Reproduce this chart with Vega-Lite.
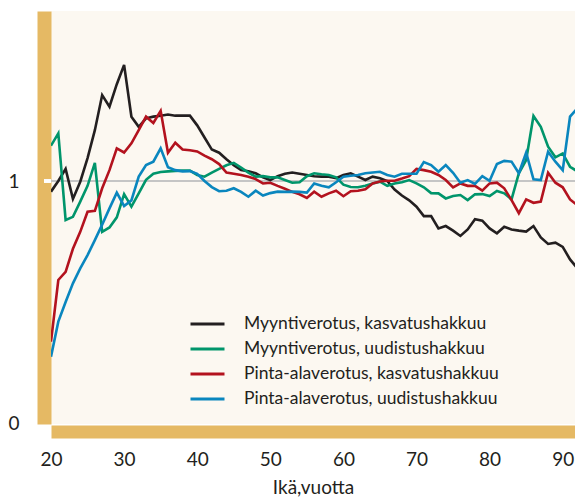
{
  "$schema": "https://vega.github.io/schema/vega-lite/v6.json",
  "width": 524,
  "height": 413,
  "autosize": {"type": "none"},
  "padding": {"left": 51, "top": 11, "right": 0, "bottom": 73},
  "background": "#ffffff",
  "config": {
    "font": "Lato",
    "view": {"fill": "#FCF8F1", "stroke": null},
    "axis": {"labelColor": "#231F20", "titleColor": "#231F20", "labelFont": "Lato", "titleFont": "Lato"},
    "legend": {"labelColor": "#231F20", "labelFont": "Lato"}
  },
  "data": {
    "values": [
      {"age": 20, "mk": 0.956, "mu": 1.146, "pk": 0.336, "pu": 0.274},
      {"age": 21, "mk": 1.0, "mu": 1.197, "pk": 0.591, "pu": 0.419},
      {"age": 22, "mk": 1.05, "mu": 0.839, "pk": 0.625, "pu": 0.5},
      {"age": 23, "mk": 0.926, "mu": 0.852, "pk": 0.72, "pu": 0.577},
      {"age": 24, "mk": 0.997, "mu": 0.915, "pk": 0.79, "pu": 0.639},
      {"age": 25, "mk": 1.095, "mu": 0.98, "pk": 0.873, "pu": 0.694},
      {"age": 26, "mk": 1.21, "mu": 1.075, "pk": 0.877, "pu": 0.756},
      {"age": 27, "mk": 1.355, "mu": 0.79, "pk": 0.97, "pu": 0.82},
      {"age": 28, "mk": 1.307, "mu": 0.808, "pk": 1.045, "pu": 0.887},
      {"age": 29, "mk": 1.4, "mu": 0.85, "pk": 1.135, "pu": 0.952},
      {"age": 30, "mk": 1.48, "mu": 0.946, "pk": 1.118, "pu": 0.897},
      {"age": 31, "mk": 1.266, "mu": 0.894, "pk": 1.156, "pu": 0.92},
      {"age": 32, "mk": 1.224, "mu": 0.949, "pk": 1.21, "pu": 1.018},
      {"age": 33, "mk": 1.259, "mu": 1.005, "pk": 1.266, "pu": 1.066},
      {"age": 34, "mk": 1.266, "mu": 1.03, "pk": 1.24, "pu": 1.08},
      {"age": 35, "mk": 1.27, "mu": 1.037, "pk": 1.29, "pu": 1.135},
      {"age": 36, "mk": 1.275, "mu": 1.04, "pk": 1.117, "pu": 1.057},
      {"age": 37, "mk": 1.27, "mu": 1.042, "pk": 1.158, "pu": 1.045},
      {"age": 38, "mk": 1.27, "mu": 1.043, "pk": 1.13, "pu": 1.04},
      {"age": 39, "mk": 1.27, "mu": 1.043, "pk": 1.127, "pu": 1.041},
      {"age": 40, "mk": 1.23, "mu": 1.025, "pk": 1.122, "pu": 1.03},
      {"age": 41, "mk": 1.18, "mu": 1.018, "pk": 1.105, "pu": 1.0},
      {"age": 42, "mk": 1.13, "mu": 1.035, "pk": 1.09, "pu": 0.975},
      {"age": 43, "mk": 1.117, "mu": 1.05, "pk": 1.07, "pu": 0.958},
      {"age": 44, "mk": 1.09, "mu": 1.065, "pk": 1.035, "pu": 0.96},
      {"age": 45, "mk": 1.065, "mu": 1.075, "pk": 1.03, "pu": 0.97},
      {"age": 46, "mk": 1.045, "mu": 1.055, "pk": 1.025, "pu": 0.955},
      {"age": 47, "mk": 1.04, "mu": 1.035, "pk": 1.018, "pu": 0.935},
      {"age": 48, "mk": 1.032, "mu": 1.018, "pk": 1.008, "pu": 0.96},
      {"age": 49, "mk": 1.015, "mu": 1.02, "pk": 0.99, "pu": 0.94},
      {"age": 50, "mk": 1.004, "mu": 1.015, "pk": 0.993, "pu": 0.95},
      {"age": 51, "mk": 1.02, "mu": 1.015, "pk": 0.98, "pu": 0.956},
      {"age": 52, "mk": 1.03, "mu": 1.004, "pk": 0.968, "pu": 0.955},
      {"age": 53, "mk": 1.035, "mu": 0.993, "pk": 0.955, "pu": 0.956},
      {"age": 54, "mk": 1.03, "mu": 0.995, "pk": 0.945, "pu": 0.955},
      {"age": 55, "mk": 1.025, "mu": 1.02, "pk": 0.93, "pu": 0.952},
      {"age": 56, "mk": 1.02, "mu": 1.032, "pk": 0.956, "pu": 0.99},
      {"age": 57, "mk": 1.018, "mu": 1.028, "pk": 0.935, "pu": 0.98},
      {"age": 58, "mk": 1.018, "mu": 1.025, "pk": 0.949, "pu": 0.974},
      {"age": 59, "mk": 1.012, "mu": 1.015, "pk": 0.96, "pu": 0.995},
      {"age": 60, "mk": 1.025, "mu": 0.985, "pk": 0.937, "pu": 1.018},
      {"age": 61, "mk": 1.032, "mu": 0.975, "pk": 0.958, "pu": 1.022},
      {"age": 62, "mk": 1.018, "mu": 0.974, "pk": 0.96, "pu": 1.025},
      {"age": 63, "mk": 1.004, "mu": 0.98, "pk": 0.966, "pu": 1.032},
      {"age": 64, "mk": 1.018, "mu": 0.99, "pk": 0.99, "pu": 1.035},
      {"age": 65, "mk": 1.011, "mu": 0.997, "pk": 0.998, "pu": 1.038},
      {"age": 66, "mk": 1.0, "mu": 0.98, "pk": 1.001, "pu": 1.025},
      {"age": 67, "mk": 0.965, "mu": 0.99, "pk": 1.001, "pu": 1.018},
      {"age": 68, "mk": 0.94, "mu": 0.995, "pk": 1.01, "pu": 1.03},
      {"age": 69, "mk": 0.92, "mu": 1.004, "pk": 1.02, "pu": 1.03},
      {"age": 70, "mk": 0.894, "mu": 0.99, "pk": 1.05, "pu": 1.03},
      {"age": 71, "mk": 0.855, "mu": 0.974, "pk": 1.045, "pu": 1.078},
      {"age": 72, "mk": 0.855, "mu": 0.95, "pk": 1.038, "pu": 1.066},
      {"age": 73, "mk": 0.804, "mu": 0.949, "pk": 1.025, "pu": 1.038},
      {"age": 74, "mk": 0.814, "mu": 0.928, "pk": 1.004, "pu": 1.066},
      {"age": 75, "mk": 0.795, "mu": 0.938, "pk": 0.974, "pu": 1.034},
      {"age": 76, "mk": 0.773, "mu": 0.942, "pk": 0.99, "pu": 0.993},
      {"age": 77, "mk": 0.8, "mu": 0.921, "pk": 0.98, "pu": 1.004},
      {"age": 78, "mk": 0.842, "mu": 0.945, "pk": 0.98, "pu": 0.988},
      {"age": 79, "mk": 0.836, "mu": 0.946, "pk": 0.96, "pu": 1.02},
      {"age": 80, "mk": 0.804, "mu": 0.938, "pk": 0.99, "pu": 1.001},
      {"age": 81, "mk": 0.784, "mu": 0.959, "pk": 0.993, "pu": 1.07},
      {"age": 82, "mk": 0.811, "mu": 0.949, "pk": 0.97, "pu": 1.083},
      {"age": 83, "mk": 0.8, "mu": 0.924, "pk": 0.921, "pu": 1.08},
      {"age": 84, "mk": 0.795, "mu": 1.032, "pk": 0.867, "pu": 1.032},
      {"age": 85, "mk": 0.791, "mu": 1.087, "pk": 0.924, "pu": 1.117},
      {"age": 86, "mk": 0.814, "mu": 1.269, "pk": 0.91, "pu": 1.007},
      {"age": 87, "mk": 0.767, "mu": 1.224, "pk": 0.915, "pu": 1.004},
      {"age": 88, "mk": 0.74, "mu": 1.142, "pk": 1.034, "pu": 1.121},
      {"age": 89, "mk": 0.745, "mu": 1.098, "pk": 0.993, "pu": 1.08},
      {"age": 90, "mk": 0.728, "mu": 1.114, "pk": 0.974, "pu": 1.045},
      {"age": 91, "mk": 0.676, "mu": 1.059, "pk": 0.924, "pu": 1.266},
      {"age": 92, "mk": 0.64, "mu": 1.04, "pk": 0.9, "pu": 1.3}
    ]
  },
  "layer": [
    {
      "mark": {"type": "rule", "color": "#C4C4C4", "strokeWidth": 1.5},
      "encoding": {"y": {"datum": 1, "type": "quantitative"}}
    },
    {
      "mark": {"type": "tick", "orient": "horizontal", "color": "#ffffff", "size": 7, "thickness": 2.5, "xOffset": -3.5, "opacity": 1, "clip": false},
      "encoding": {
        "x": {"datum": 20, "type": "quantitative"},
        "y": {"datum": 1, "type": "quantitative"}
      }
    },
    {
      "transform": [
        {"fold": ["mk", "mu", "pk", "pu"], "as": ["sarja", "arvo"]}
      ],
      "mark": {"type": "line", "strokeWidth": 2.6, "clip": true},
      "encoding": {
        "x": {
          "field": "age", "type": "quantitative",
          "scale": {"domain": [20, 91.68], "nice": false, "zero": false},
          "axis": {
            "values": [20, 30, 40, 50, 60, 70, 80, 90],
            "offset": 7.5, "domainColor": "#E5B964", "domainWidth": 13, "domainCap": "butt",
            "ticks": false, "grid": false, "labelFontSize": 19, "labelPadding": 19, "labelFlush": false,
            "title": "Ikä,vuotta", "titleFontSize": 19, "titleFontWeight": "normal", "titlePadding": 9
          }
        },
        "y": {
          "field": "arvo", "type": "quantitative",
          "scale": {"domain": [-0.004, 1.7025], "nice": false, "zero": false},
          "axis": {
            "values": [0, 1], "format": "d", "offset": 7, "domainColor": "#E5B964", "domainWidth": 14, "domainCap": "butt",
            "ticks": false,
            "grid": false, "labelFontSize": 19, "labelAlign": "center", "labelPadding": 30.5, "labelFlush": false,
            "title": null
          }
        },
        "color": {
          "field": "sarja", "type": "nominal",
          "scale": {"domain": ["mk", "mu", "pk", "pu"], "range": ["#231F20", "#00956B", "#B3121E", "#0A86BE"]},
          "legend": {
            "orient": "none", "legendX": 138, "legendY": 304, "padding": 0,
            "title": null, "symbolType": "stroke", "symbolSize": 1156, "symbolStrokeWidth": 3,
            "labelFontSize": 17.5, "labelOffset": 18, "rowPadding": 7, "clipHeight": 18, "labelLimit": 0,
            "labelExpr": "{'mk': 'Myyntiverotus, kasvatushakkuu', 'mu': 'Myyntiverotus, uudistushakkuu', 'pk': 'Pinta-alaverotus, kasvatushakkuu', 'pu': 'Pinta-alaverotus, uudistushakkuu'}[datum.value]"
          }
        }
      }
    }
  ]
}
